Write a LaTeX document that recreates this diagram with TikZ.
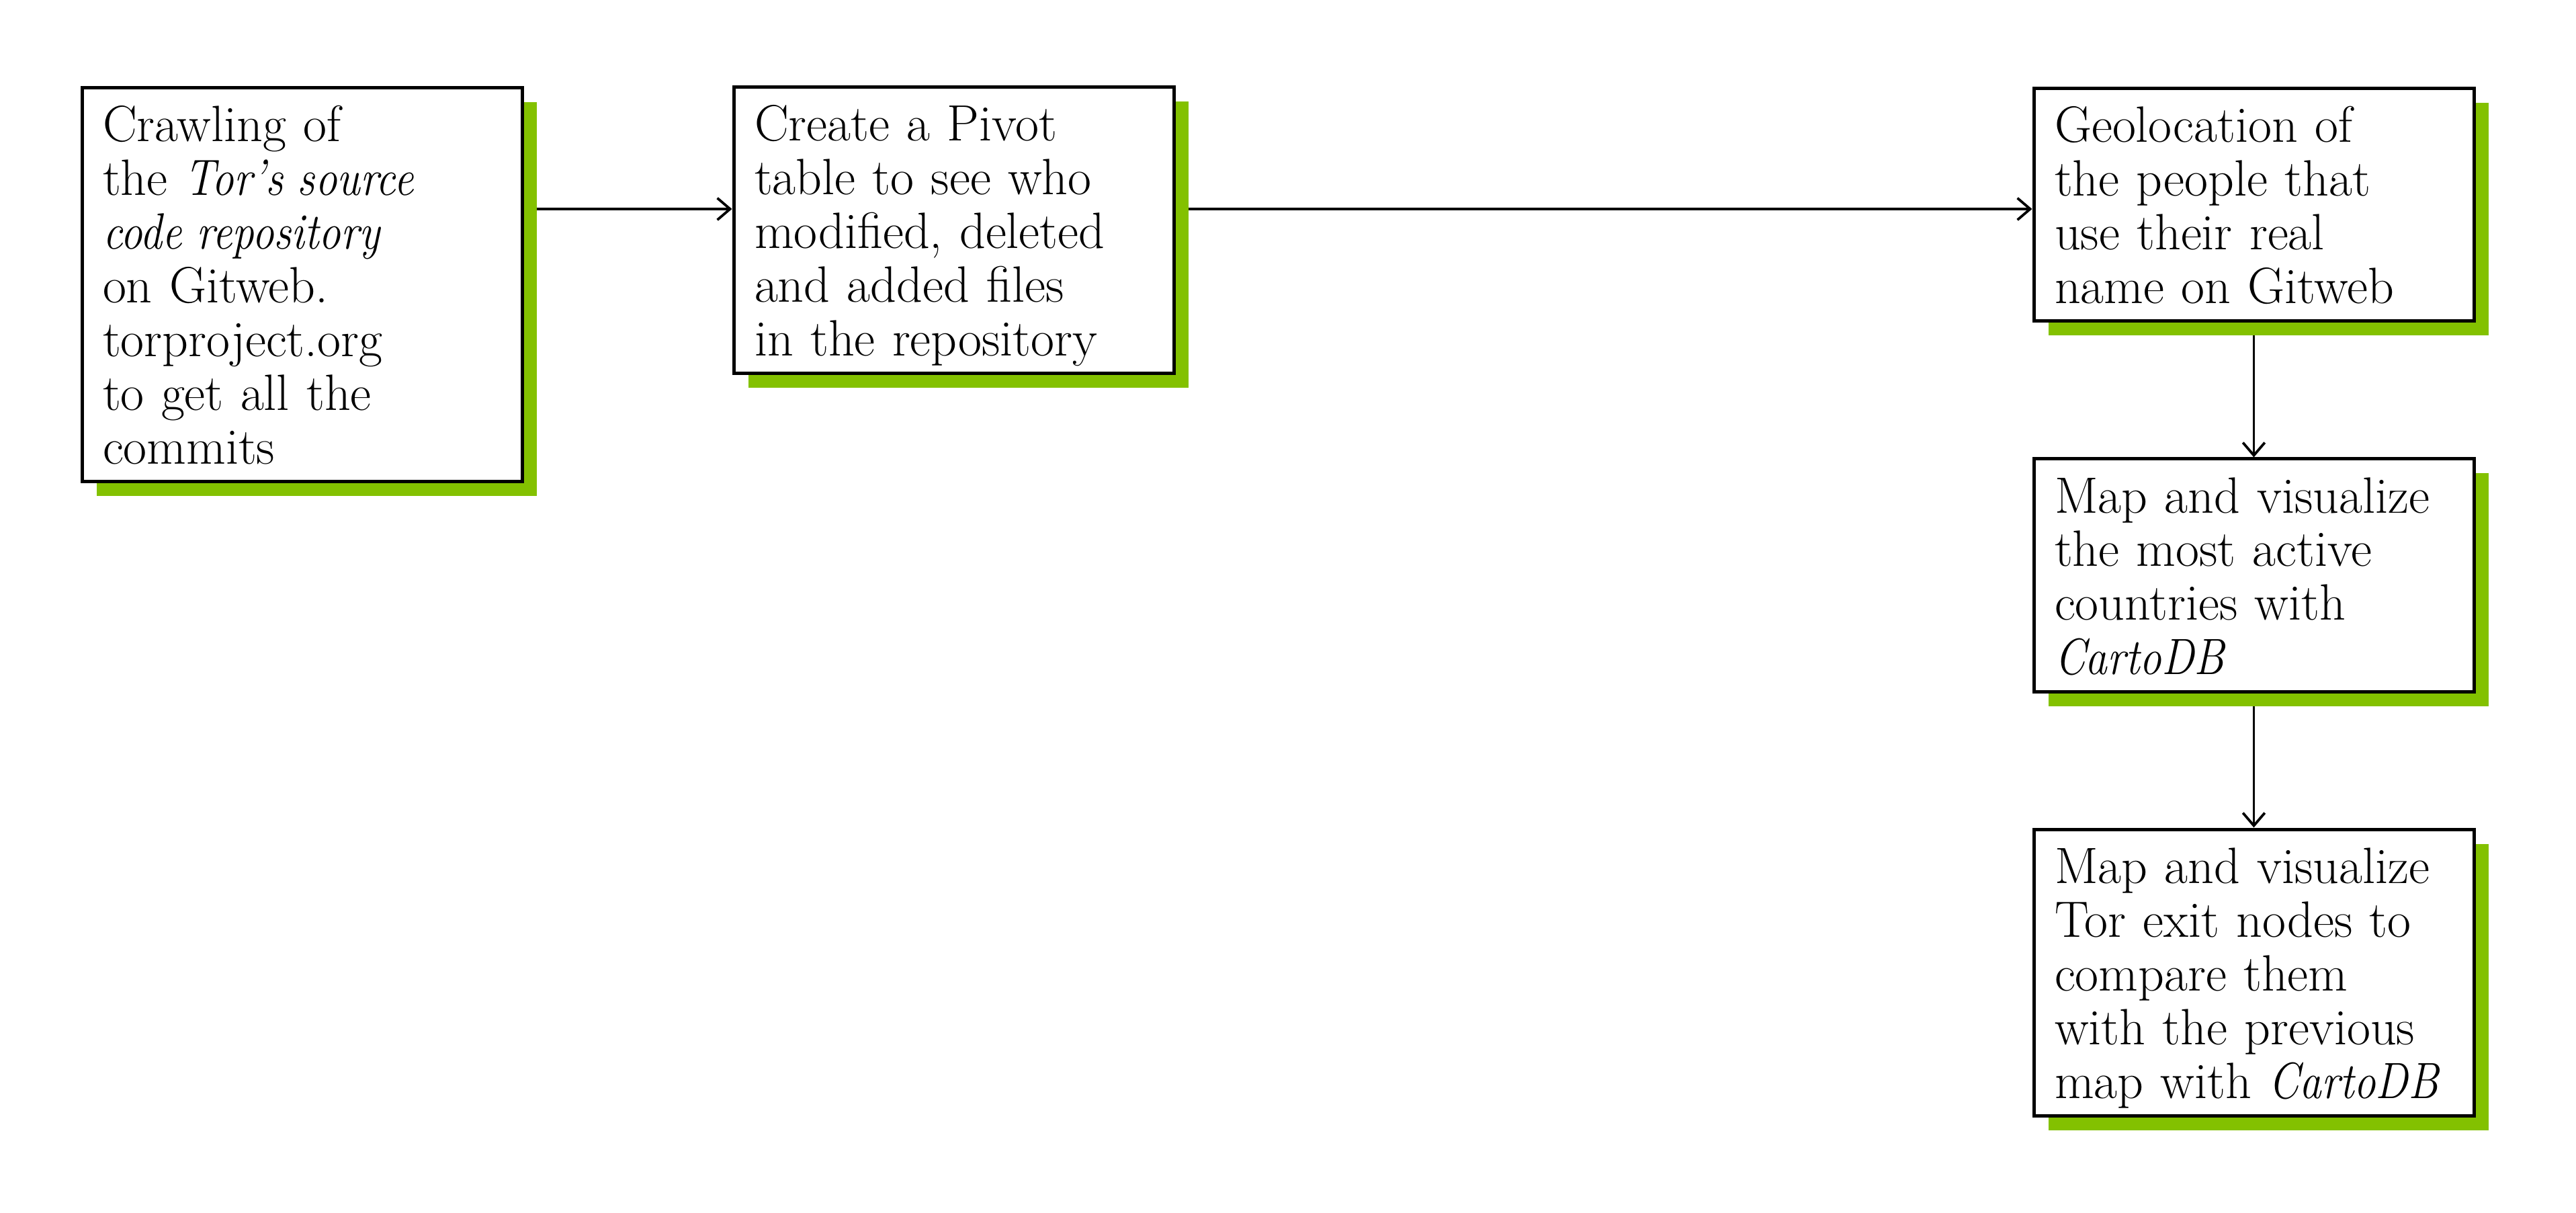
\documentclass[tikz,border=0pt]{standalone}
\usepackage{graphicx}
\usepackage{tikz}
\usetikzlibrary{arrows.meta,shapes,positioning,shadows,backgrounds}
\usepackage{xcolor}
\definecolor{torgreen}{RGB}{131,193,0}
\newcommand{\narrowit}[1]{\scalebox{0.86}[1]{\textit{#1}}}
\tikzstyle{stepbox} = [rectangle, draw=black, line width=1pt, fill=white,
    align=left, text width=127pt, inner xsep=2pt, inner ysep=2pt,
    text height=14pt, font=\fontsize{15.2pt}{16pt}\selectfont,
    execute at begin node={\leftskip=4.2pt\hyphenpenalty=10000},
    execute at end node={\rule[-3.2pt]{0pt}{3.2pt}},
    drop shadow={shadow xshift=4.3pt, shadow yshift=-4.3pt, fill=torgreen, opacity=1}]
\tikzstyle{flow} = [line width=0.75pt, -{Straight Barb[length=3.8pt,width=6.5pt]}]

\begin{document}
\begin{tikzpicture}
    \useasboundingbox (0,0) rectangle (766.8pt,-361pt);

    % Steps
    \node[stepbox, anchor=north west] (crawl) at (23.9pt,-25.7pt)
        {Crawling of\\ the \narrowit{Tor’s source}\\ \narrowit{code repository}\\ on Gitweb.\\ torproject.org\\ to get all the\\ commits};
    \node[stepbox, anchor=north west] (pivot) at (217.9pt,-25.5pt)
        {Create a Pivot\\ table to see who\\ modified, deleted\\ and added files\\ in the repository};
    \node[stepbox, anchor=north west] (geo) at (604.9pt,-25.9pt)
        {Geolocation of\\ the people that\\ use their real\\ name on Gitweb};
    \node[stepbox, below=40pt of geo] (countries)
        {Map and visualize\\ the most active\\ countries with\\ \narrowit{CartoDB}};
    \node[stepbox, below=40pt of countries] (exits)
        {Map and visualize\\ Tor exit nodes to\\ compare them\\ with the previous\\ map with \narrowit{CartoDB}};

    % Arrows (behind the shadows)
    \coordinate (row) at (0,-62.2pt);
    \begin{scope}[on background layer]
        \draw[flow] (crawl.east |- row) -- (pivot.west |- row);
        \draw[flow] (pivot.east |- row) -- (geo.west |- row);
        \draw[flow] (geo) -- (countries.north);
        \draw[flow] (countries) -- (exits.north);
    \end{scope}
\end{tikzpicture}
\end{document}
